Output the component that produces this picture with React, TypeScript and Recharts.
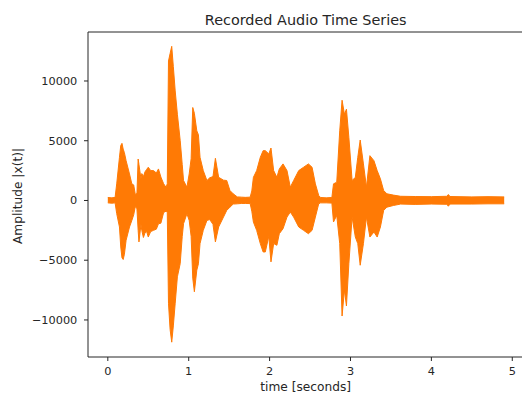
import { ComposedChart, Area, XAxis, YAxis, ReferenceLine } from 'recharts';

// envelope of the recording (time in s, upper / lower amplitude)
const times = [
  0.0, 0.05, 0.09, 0.11, 0.144, 0.16, 0.175, 0.19, 0.205, 0.226, 0.268, 0.297, 0.32, 0.34, 0.36,
  0.375, 0.385, 0.41, 0.42, 0.44, 0.46, 0.48, 0.5, 0.53, 0.565, 0.6, 0.626, 0.656, 0.69, 0.72,
  0.735, 0.75, 0.77, 0.79, 0.81, 0.833, 0.86, 0.895, 0.92, 0.936, 0.978, 1.006, 1.03, 1.05, 1.07,
  1.1, 1.12, 1.14, 1.18, 1.225, 1.26, 1.3, 1.33, 1.37, 1.43, 1.47, 1.51, 1.55, 1.6, 1.65,
  1.7, 1.76, 1.78, 1.8, 1.84, 1.885, 1.92, 1.947, 1.99, 2.017, 2.05, 2.09, 2.12, 2.166, 2.215,
  2.256, 2.297, 2.36, 2.42, 2.48, 2.525, 2.566, 2.607, 2.63, 2.7, 2.77, 2.79, 2.83, 2.867, 2.896,
  2.925, 2.95, 2.98, 3.02, 3.06, 3.09, 3.12, 3.16, 3.197, 3.24, 3.29, 3.33, 3.37, 3.41, 3.45,
  3.53, 3.62, 3.8, 4.0, 4.19, 4.21, 4.23, 4.5, 4.7, 4.9,
];

const upper = [
  250, 220, 260, 1390, 3610, 4600, 4780, 4300, 4000, 3330, 2220, 1390, 1300, 500, 600,
  3470, 3000, 1800, 2250, 2000, 2400, 2600, 2780, 2500, 2500, 2300, 2640, 1960, 1400, 1100,
  1400, 11670, 12300, 12900, 11200, 9170, 7220, 5000, 3000, 1670, 1110, 2220, 3500, 7780, 7300,
  5830, 5500, 3610, 2500, 1670, 1900, 2000, 3530, 1940, 1700, 1670, 830, 560, 300, 280,
  260, 280, 800, 1940, 2500, 3610, 4170, 4170, 3900, 4390, 2500, 1940, 2640, 3060, 2500,
  1110, 1670, 2500, 2780, 3060, 2780, 1390, 420, 250, 220, 250, 1390, 1530, 5830, 8390,
  7220, 7640, 5280, 1670, 1940, 3610, 5060, 3060, 1110, 3750, 3330, 2500, 1810, 830, 560,
  450, 350, 330, 320, 350, 500, 330, 300, 320, 300,
];

const lower = [
  -200, -230, -200, -1100, -2220, -3890, -4800, -4940, -4500, -3330, -2220, -1670, -1200, -500, -700,
  -2500, -3470, -2000, -2500, -3100, -2700, -2600, -3060, -2600, -2500, -2400, -1950, -1900, -1000, -900,
  -1000, -8600, -10800, -11860, -10500, -8600, -6390, -5280, -3000, -1940, -1110, -1670, -3000, -6500, -7640,
  -5830, -5300, -3610, -2500, -1670, -1600, -2000, -3470, -2220, -1390, -830, -560, -300, -280, -250,
  -250, -260, -900, -1810, -2500, -3610, -4310, -4310, -3000, -5140, -3610, -3750, -2780, -2360, -1390,
  -970, -1390, -2220, -2500, -2780, -2500, -1390, -280, -200, -200, -220, -1800, -1250, -3610, -9670,
  -7500, -8830, -5280, -1390, -3060, -3610, -5420, -3610, -1390, -3060, -2640, -3060, -2220, -830, -560,
  -420, -300, -330, -300, -320, -480, -300, -300, -280, -280,
];

const xTicks = [0, 1, 2, 3, 4, 5];
const yTicks = [-10000, -5000, 0, 5000, 10000];

const X_DOMAIN = [-0.245, 5.145];
const Y_DOMAIN = [-13100, 14100];

const data = times.map((t, i) => ({ t, band: [lower[i], upper[i]] }));

const ORANGE = '#ff7a05';
const INK = '#262626';
const FONT = '"DejaVu Sans", sans-serif';

const fmtY = (v: number) => String(v).replace('-', '\u2212');

export default function App() {
  return (
    <div style={{ position: 'relative', width: 522, height: 396, overflow: 'hidden', background: '#fff' }}>
      <style>{'body{margin:0}'}</style>
      <ComposedChart
        width={524}
        height={396}
        data={data}
        margin={{ top: 32, right: 0, bottom: 0, left: 0 }}
      >
        <XAxis
          dataKey="t"
          type="number"
          domain={X_DOMAIN}
          ticks={xTicks}
          height={39}
          axisLine={{ stroke: INK }}
          tickLine={{ stroke: INK }}
          tickSize={4}
          tickMargin={5.7}
          tick={{ fill: INK, fontSize: 11.3, fontFamily: FONT }}
          allowDataOverflow
        />
        <YAxis
          type="number"
          domain={Y_DOMAIN}
          ticks={yTicks}
          width={88}
          axisLine={{ stroke: INK }}
          tickLine={{ stroke: INK }}
          tickSize={4}
          tickMargin={6.7}
          tickFormatter={fmtY}
          tick={{ fill: INK, fontSize: 11.3, fontFamily: FONT }}
          allowDataOverflow
        />
        <Area
          dataKey="band"
          type="linear"
          stroke={ORANGE}
          strokeWidth={1}
          fill={ORANGE}
          fillOpacity={1}
          dot={false}
          activeDot={false}
          isAnimationActive={false}
        />
        {/* top spine of the box */}
        <ReferenceLine y={Y_DOMAIN[1]} stroke={INK} strokeWidth={1} ifOverflow="visible" />
      </ComposedChart>

      {/* title and axis labels */}
      <svg
        width={522}
        height={396}
        style={{ position: 'absolute', left: 0, top: 0, pointerEvents: 'none' }}
      >
        <text x={305.7} y={24.5} textAnchor="middle" fontSize={14.4} fontFamily={FONT} fill={INK}>
          Recorded Audio Time Series
        </text>
        <text x={305.7} y={390.5} textAnchor="middle" fontSize={12.2} fontFamily={FONT} fill={INK}>
          time [seconds]
        </text>
        <text
          x={22}
          y={196}
          textAnchor="middle"
          fontSize={12.2}
          fontFamily={FONT}
          fill={INK}
          transform="rotate(-90, 22, 196)"
        >
          Amplitude |x(t)|
        </text>
      </svg>
    </div>
  );
}
